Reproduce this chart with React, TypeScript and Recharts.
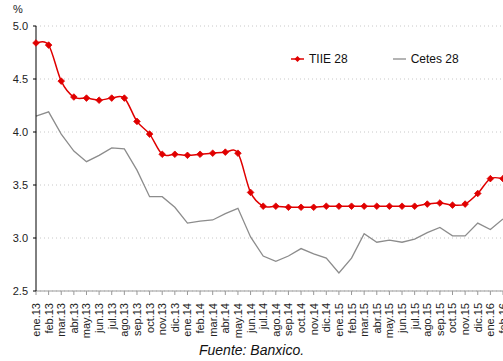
import { LineChart, Line, XAxis, YAxis, CartesianGrid } from "recharts";

const months = [
  "ene.13", "feb.13", "mar.13", "abr.13", "may.13", "jun.13", "jul.13", "ago.13", "sep.13", "oct.13", "nov.13", "dic.13",
  "ene.14", "feb.14", "mar.14", "abr.14", "may.14", "jun.14", "jul.14", "ago.14", "sep.14", "oct.14", "nov.14", "dic.14",
  "ene.15", "feb.15", "mar.15", "abr.15", "may.15", "jun.15", "jul.15", "ago.15", "sep.15", "oct.15", "nov.15", "dic.15",
  "ene.16", "feb.16",
];

const tiie28 = [
  4.84, 4.82, 4.48, 4.33, 4.32, 4.30, 4.32, 4.32, 4.10, 3.98, 3.79, 3.79,
  3.78, 3.79, 3.80, 3.81, 3.80, 3.43, 3.30, 3.30, 3.29, 3.29, 3.29, 3.30,
  3.30, 3.30, 3.30, 3.30, 3.30, 3.30, 3.30, 3.32, 3.33, 3.31, 3.32, 3.42,
  3.56, 3.56,
];

const cetes28 = [
  4.15, 4.19, 3.98, 3.82, 3.72, 3.78, 3.85, 3.84, 3.64, 3.39, 3.39, 3.29,
  3.14, 3.16, 3.17, 3.23, 3.28, 3.01, 2.83, 2.78, 2.83, 2.90, 2.85, 2.81,
  2.67, 2.81, 3.04, 2.96, 2.98, 2.96, 2.99, 3.05, 3.10, 3.02, 3.02, 3.14,
  3.08, 3.18,
];

const yTicks = [2.5, 3.0, 3.5, 4.0, 4.5, 5.0];

const data = months.map((m, i) => ({ month: m, tiie: tiie28[i], cetes: cetes28[i] }));

const FONT = "'Liberation Sans', Arial, sans-serif";
const RED = "#e00000";
const GREY = "#8c8c8c";

// Catmull-Rom style smoothing, like a spreadsheet "smoothed line"
const smoothCurve = (context: any) => {
  let pts: number[][] = [];
  return {
    areaStart() {},
    areaEnd() {},
    lineStart() {
      pts = [];
    },
    lineEnd() {
      if (!pts.length) return;
      context.moveTo(pts[0][0], pts[0][1]);
      for (let i = 0; i < pts.length - 1; i++) {
        const p0 = pts[Math.max(i - 1, 0)];
        const p1 = pts[i];
        const p2 = pts[i + 1];
        const p3 = pts[Math.min(i + 2, pts.length - 1)];
        const k = 1 / 6;
        context.bezierCurveTo(
          p1[0] + (p2[0] - p0[0]) * k,
          p1[1] + (p2[1] - p0[1]) * k,
          p2[0] - (p3[0] - p1[0]) * k,
          p2[1] - (p3[1] - p1[1]) * k,
          p2[0],
          p2[1]
        );
      }
    },
    point(x: number, y: number) {
      pts.push([+x, +y]);
    },
  };
};

const Diamond = ({ cx, cy }: any) => {
  if (cx == null || cy == null) return null;
  const r = 3.3;
  return (
    <polygon
      points={`${cx},${cy - r} ${cx + r},${cy} ${cx},${cy + r} ${cx - r},${cy}`}
      fill={RED}
      stroke={RED}
      strokeWidth={0.8}
    />
  );
};

const MonthTick = ({ x, y, payload }: any) => (
  <g transform={`translate(${x},${y + 6}) rotate(-90)`}>
    <text x={0} y={0} dy="0.36em" textAnchor="end" fontSize={11} fill="#222" fontFamily={FONT}>
      {payload.value}
    </text>
  </g>
);

export default function App() {
  return (
    <div style={{ position: "absolute", left: 0, top: 0, width: 503, height: 361, overflow: "hidden", background: "#fff" }}>
      <div style={{ position: "absolute", left: 13, top: 3, fontSize: 11, fontFamily: FONT, color: "#222" }}>%</div>

      <LineChart width={503} height={361} data={data} margin={{ top: 26, right: 0, bottom: 0, left: 0 }}>
        <CartesianGrid horizontal vertical={false} stroke="#c8c8c8" strokeDasharray="1 3" />
        <XAxis
          dataKey="month"
          interval={0}
          height={70}
          tick={<MonthTick />}
          tickSize={4}
          stroke="#999"
          axisLine={{ stroke: "#999" }}
          tickLine={{ stroke: "#999" }}
        />
        <YAxis
          domain={[2.5, 5]}
          ticks={yTicks}
          width={36}
          tickSize={3}
          tickMargin={5}
          tickFormatter={(v: number) => v.toFixed(1)}
          tick={{ fontSize: 11, fill: "#222", fontFamily: FONT }}
          axisLine={{ stroke: "#000" }}
          tickLine={{ stroke: "#000" }}
        />
        <Line
          dataKey="cetes"
          type="linear"
          stroke={GREY}
          strokeWidth={1.3}
          dot={false}
          isAnimationActive={false}
        />
        <Line
          dataKey="tiie"
          type={smoothCurve as any}
          stroke={RED}
          strokeWidth={1.5}
          dot={<Diamond />}
          isAnimationActive={false}
        />
      </LineChart>

      <div style={{ position: "absolute", left: 291, top: 52, display: "flex", alignItems: "center", fontSize: 12, fontFamily: FONT, color: "#111" }}>
        <svg width={14} height={10} style={{ marginRight: 4 }}>
          <line x1={0} y1={5} x2={13} y2={5} stroke={RED} strokeWidth={1.5} />
          <polygon points="6.5,2 9.5,5 6.5,8 3.5,5" fill={RED} />
        </svg>
        <span>TIIE 28</span>
        <svg width={14} height={10} style={{ marginLeft: 45, marginRight: 4 }}>
          <line x1={0} y1={5} x2={13} y2={5} stroke={GREY} strokeWidth={1.3} />
        </svg>
        <span>Cetes 28</span>
      </div>

      <div style={{ position: "absolute", left: 199, top: 342, fontSize: 14, fontStyle: "italic", fontFamily: FONT, color: "#111" }}>
        Fuente: Banxico.
      </div>
    </div>
  );
}
